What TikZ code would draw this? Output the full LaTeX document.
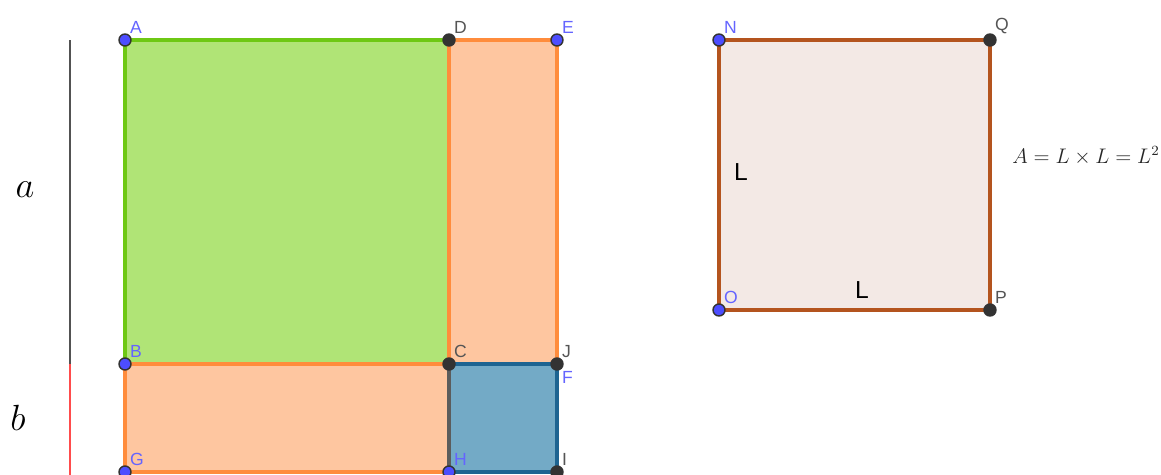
\documentclass[tikz,border=0pt]{standalone}
\usepackage{fontspec}
\setsansfont{Liberation Sans}
\definecolor{ggreen}{RGB}{176,228,118}
\definecolor{ggreenline}{RGB}{110,200,20}
\definecolor{gorange}{RGB}{254,198,160}
\definecolor{gorangeline}{RGB}{255,140,60}
\definecolor{gblue}{RGB}{115,170,198}
\definecolor{gblueline}{RGB}{30,100,145}
\definecolor{gsquare}{RGB}{243,233,229}
\definecolor{gsquareline}{RGB}{180,84,30}
\definecolor{gpointblue}{RGB}{77,77,255}
\definecolor{glabelblue}{RGB}{100,100,255}
\definecolor{gdark}{RGB}{51,51,51}
\definecolor{glabeldark}{RGB}{85,85,85}
\tikzset{
  freept/.style={circle, fill=gpointblue, draw=gdark, line width=0.8pt, inner sep=0pt, minimum size=0.24cm},
  fixpt/.style={circle, fill=gdark, draw=gdark, line width=0.8pt, inner sep=0pt, minimum size=0.24cm},
  bluelbl/.style={text=glabelblue, font=\sffamily\fontsize{10}{12}\selectfont, inner sep=1pt},
  darklbl/.style={text=glabeldark, font=\sffamily\fontsize{10}{12}\selectfont, inner sep=1pt},
  side/.style={line width=1.9pt}
}
\begin{document}
\begin{tikzpicture}[x=0.02cm, y=-0.02cm]
            \useasboundingbox (0,0) rectangle (1161,474);

            % puntos de la figura izquierda
            \coordinate (A) at (125,40);
            \coordinate (D) at (449,40);
            \coordinate (E) at (557,40);
            \coordinate (B) at (125,364);
            \coordinate (C) at (449,364);
            \coordinate (J) at (557,364);
            \coordinate (G) at (125,472);
            \coordinate (H) at (449,472);
            \coordinate (I) at (557,472);

            % cuadrado de lado L
            \coordinate (N) at (719,40);
            \coordinate (Q) at (990,40);
            \coordinate (O) at (719,310);
            \coordinate (P) at (990,310);

            % segmentos a y b
            \coordinate (sTop) at (70,40);
            \coordinate (sMid) at (70,364);
            \coordinate (sBot) at (70,476);
            \draw[line width=1.6pt, gdark!85] (sTop) -- (sMid);
            \draw[line width=1.6pt, red!70] (sMid) -- (sBot);
            \node[font=\fontsize{20}{24}\selectfont] (la) at (25,190) {$a$};
            \node[font=\fontsize{20}{24}\selectfont] (lb) at (18,418) {$b$};

            \draw[side, fill=ggreen, draw=ggreenline] (A) rectangle (C);
            \draw[side, fill=gorange, draw=gorangeline] (D) rectangle (J);
            \draw[side, fill=gorange, draw=gorangeline] (B) rectangle (H);
            \draw[side, fill=gblue, draw=gblueline] (C) rectangle (I);
            \draw[side, gdark!80] (C) -- (H);

            \draw[side, fill=gsquare, draw=gsquareline] (N) rectangle (P);

            % puntos
            \foreach \p in {A,E,B,G,H,N,O} \node[freept] (pt\p) at (\p) {};
            \foreach \p in {D,C,J,I,Q,P} \node[fixpt] (pt\p) at (\p) {};

            % etiquetas
            \foreach \p in {A,B,G,H,N,O,E}
              \node[bluelbl, anchor=south west] (lbl\p) at ([shift={(3,-4)}]\p) {\p};
            \foreach \p in {D,C,J,I,Q,P}
              \node[darklbl, anchor=south west] (lbl\p) at ([shift={(3,-4)}]\p) {\p};
            \node[bluelbl, anchor=north west] (lblF) at ([shift={(3,5)}]J) {F};

            \node[font=\sffamily\fontsize{14}{16}\selectfont] (lL1) at (741,172) {L};
            \node[font=\sffamily\fontsize{14}{16}\selectfont] (lL2) at (862,290) {L};
            \node[font=\fontsize{12}{14}\selectfont, text=black!85] (area) at (1086,156) {$A = L \times L = L^2$};
        \end{tikzpicture}
\end{document}
